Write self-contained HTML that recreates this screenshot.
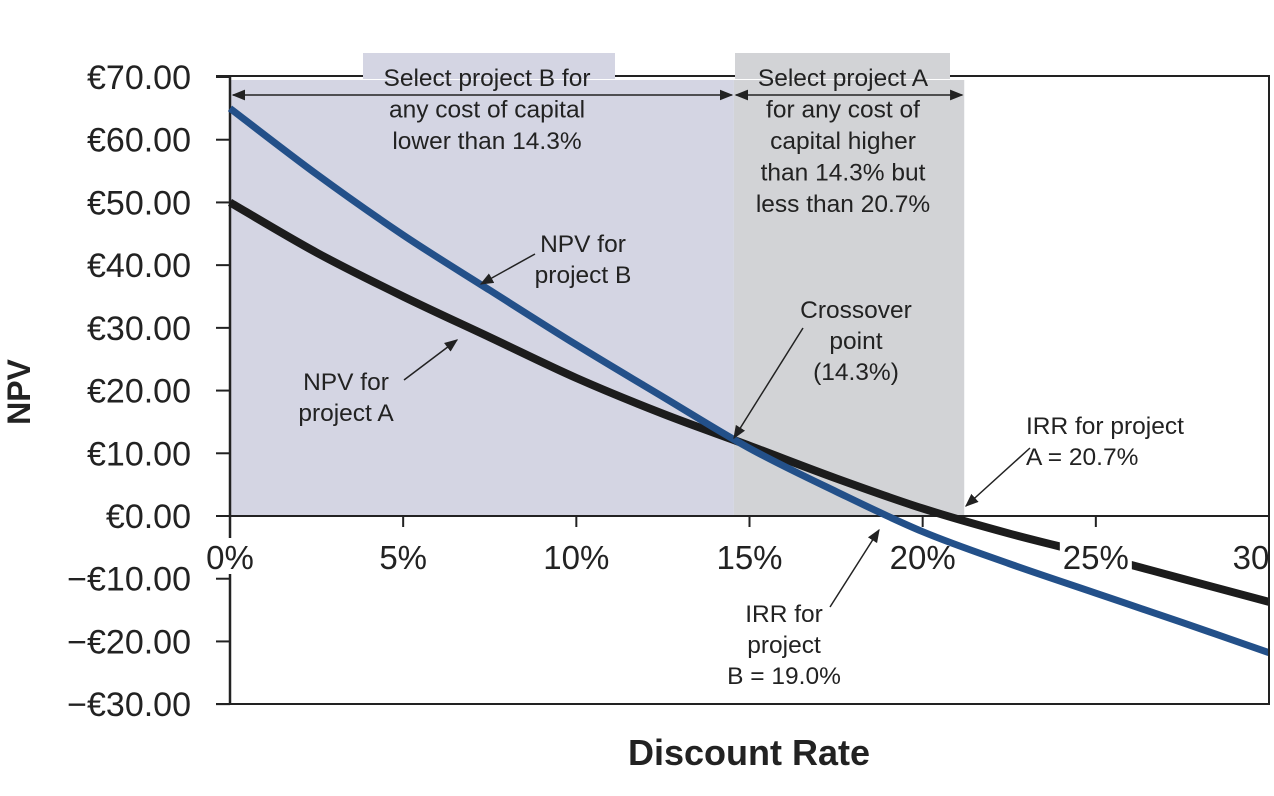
<!DOCTYPE html>
<html><head><meta charset="utf-8"><style>
html,body{margin:0;padding:0;background:#fff;}
svg{display:block;font-family:"Liberation Sans",Arial,sans-serif;}
</style></head><body>
<svg id="chart" width="1274" height="796" viewBox="0 0 1274 796">
<defs>
<marker id="ah" viewBox="0 0 10 10" refX="9" refY="5" markerWidth="9" markerHeight="9" orient="auto-start-reverse"><path d="M0,1 L10,5 L0,9 z" fill="#222"/></marker>
</defs>
<g id="bg"></g>
<g id="axes"></g>
<g id="lines"></g>
<g id="annot"></g>
</svg>
<script>
const rates=[0,2.5,5,7.5,10,12.5,15,17.5,20,22.5,25,27.5,30];
const npvA=[50,42,35,28.5,22,16.3,11.2,6,1.2,-2.8,-6.3,-10,-13.7];
const npvB=[65,54.5,44.8,36,27.3,19,10.8,3.9,-2.5,-7.6,-12.3,-17,-21.8];
const yTicks=[70,60,50,40,30,20,10,0,-10,-20,-30];
const yTickLabels=["€70.00","€60.00","€50.00","€40.00","€30.00","€20.00","€10.00","€0.00","\u2212€10.00","\u2212€20.00","\u2212€30.00"];
const xTicks=[0,5,10,15,20,25,30];
const xTickLabels=["0%","5%","10%","15%","20%","25%","30"];
const crossover=14.55, irrA=21.2;

const NS="http://www.w3.org/2000/svg";
const X=r=>230+r*(1269-230)/30;
const Y=v=>516-v*(516-77)/70;
function mk(parent,tag,attrs,text){const e=document.createElementNS(NS,tag);for(const k in attrs)e.setAttribute(k,attrs[k]);if(text!==undefined)e.textContent=text;document.getElementById(parent).appendChild(e);return e;}

let e;
e=mk('bg','rect',{x:X(0),y:80,width:X(crossover)-X(0),height:Y(0)-80,fill:'#d4d5e3'});


e=mk('bg','rect',{x:X(crossover),y:80,width:X(irrA)-X(crossover),height:Y(0)-80,fill:'#d2d3d6'});



e=mk('axes','path',{d:`M216,76 H1269 V704 H216`,fill:'none',stroke:'#222','stroke-width':2});


e=mk('axes','line',{x1:X(0),y1:76,x2:X(0),y2:704,stroke:'#222','stroke-width':2.5});


e=mk('axes','line',{x1:216,y1:Y(0),x2:1269,y2:Y(0),stroke:'#222','stroke-width':2});


yTicks.forEach((v,i)=>{
  const t=mk('axes','line',{x1:216,y1:Y(v),x2:X(0),y2:Y(v),stroke:'#222','stroke-width':2});
  
  
  const l=mk('axes','text',{x:191,y:Y(v)+12,'text-anchor':'end','font-size':34,fill:'#222'},yTickLabels[i]);
  
  
});
xTicks.forEach(v=>{
  const t=mk('axes','line',{x1:X(v),y1:Y(0),x2:X(v),y2:Y(0)+11,stroke:'#222','stroke-width':2});
  
  
});

function pathFor(vals){
  const p=rates.map((r,i)=>[X(r),Y(vals[i])]);
  let d=`M${p[0][0]},${p[0][1]}`;
  for(let i=0;i<p.length-1;i++){
    const p0=p[i-1]||p[i],p1=p[i],p2=p[i+1],p3=p[i+2]||p2;
    const c1=[p1[0]+(p2[0]-p0[0])/6,p1[1]+(p2[1]-p0[1])/6];
    const c2=[p2[0]-(p3[0]-p1[0])/6,p2[1]-(p3[1]-p1[1])/6];
    d+=` C${c1[0]},${c1[1]} ${c2[0]},${c2[1]} ${p2[0]},${p2[1]}`;
  }
  return d;
}
e=mk('lines','path',{d:pathFor(npvA),fill:'none',stroke:'#1c1c1c','stroke-width':8});


e=mk('lines','path',{d:pathFor(npvB),fill:'none',stroke:'#235089','stroke-width':7});



xTicks.forEach((v,i)=>{
  const tx=X(v);
  if(i===0||i===5||i===6){const b=mk('annot','rect',{x:tx-(i===6?22:36),y:538,width:(i===6?30:72),height:36,fill:'#fff'});}
  const l=mk('annot','text',{x:i===6?1251:tx,y:569,'text-anchor':'middle','font-size':33,fill:'#222'},xTickLabels[i]);
  
  
});
e=mk('annot','line',{x1:1269,y1:516,x2:1269,y2:704,stroke:'#222','stroke-width':2});



e=mk('annot','rect',{x:363,y:53,width:252,height:26,fill:'#d4d5e3'});


e=mk('annot','rect',{x:735,y:53,width:215,height:26,fill:'#d2d3d6'});


e=mk('annot','line',{x1:X(0)+3,y1:95,x2:X(crossover)-2,y2:95,stroke:'#222','stroke-width':1.5,'marker-start':'url(#ah)','marker-end':'url(#ah)'});


e=mk('annot','line',{x1:X(crossover)+2,y1:95,x2:X(irrA)-2,y2:95,stroke:'#222','stroke-width':1.5,'marker-start':'url(#ah)','marker-end':'url(#ah)'});



function multi(lines,x,y,lh,name,anchor){
  const t=mk('annot','text',{x:x,y:y,'text-anchor':anchor||'middle','font-size':24.5,fill:'#222'});
  
  
  lines.forEach((s,i)=>{const ts=document.createElementNS(NS,'tspan');ts.setAttribute('x',x);ts.setAttribute('dy',i?lh:0);ts.textContent=s;t.appendChild(ts);});
}
multi(["Select project B for","any cost of capital","lower than 14.3%"],487,86,31.5,'select-b-label');
multi(["Select project A","for any cost of","capital higher","than 14.3% but","less than 20.7%"],843,86,31.5,'select-a-label');
multi(["NPV for","project B"],583,252,31,'npv-b-label');
multi(["NPV for","project A"],346,390,31,'npv-a-label');
multi(["Crossover","point","(14.3%)"],856,318,31,'crossover-label');
multi(["IRR for project","A = 20.7%"],1026,434,31,'irr-a-label','start');
multi(["IRR for","project","B = 19.0%"],784,622,31,'irr-b-label');

function arrow(x1,y1,x2,y2,name){const a=mk('annot','line',{x1,y1,x2,y2,stroke:'#222','stroke-width':1.5,'marker-end':'url(#ah)'});}
arrow(535,254,481,284,'npv-b-arrow');
arrow(404,380,457,340,'npv-a-arrow');
arrow(803,328,734,438,'crossover-arrow');
arrow(1030,448,966,506,'irr-a-arrow');
arrow(830,607,879,530,'irr-b-arrow');

e=mk('annot','text',{x:749,y:765,'text-anchor':'middle','font-size':36,'font-weight':'bold',fill:'#222'},'Discount Rate');


e=mk('annot','text',{x:0,y:0,'text-anchor':'middle','font-size':32,'font-weight':'bold',fill:'#222',transform:'translate(30,392) rotate(-90)'},'NPV');


</script>
</body></html>
